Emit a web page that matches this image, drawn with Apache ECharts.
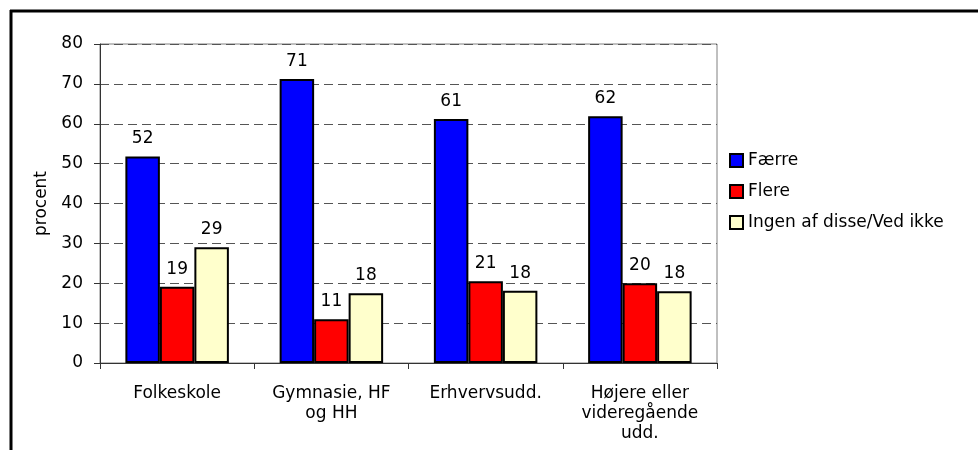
<!DOCTYPE html>
<html style="height: 100%">
<head>
<meta charset="utf-8">
<title>procent</title>
<script src="https://cdn.jsdelivr.net/npm/echarts@6/dist/echarts.min.js"></script>
</head>
<body style="height: 100%; margin: 0; background: #fff">
<div id="container" style="width: 978px; height: 450px"></div>
<script type="text/javascript">
// data
var categories = ['Folkeskole', 'Gymnasie, HF\nog HH', 'Erhvervsudd.', 'Højere eller\nvideregående\nudd.'];
var faerre = [51.8, 71.2, 61.2, 61.9];
var flere = [19.1, 11.0, 20.5, 20.0];
var ingen = [29.0, 17.5, 18.1, 18.0];
var seriesNames = ['Færre', 'Flere', 'Ingen af disse/Ved ikke'];
var seriesColors = ['#0000ff', '#ff0000', '#ffffcc'];

var font = 'DejaVu Sans';
var fs = 17;

var dom = document.getElementById('container');
var myChart = echarts.init(dom);

function barSeries(name, data, color) {
  return {
    name: name,
    type: 'bar',
    data: data,
    barWidth: 34.5,
    barGap: '0%',
    itemStyle: { color: color, borderColor: '#000', borderWidth: 2 },
    label: {
      show: true,
      position: 'top',
      distance: 9,
      color: '#000',
      fontFamily: font,
      fontSize: fs,
      formatter: function (p) { return Math.round(p.value); }
    }
  };
}

var option = {
  animation: false,
  textStyle: { fontFamily: font },
  graphic: [
    { type: 'line', shape: { x1: 10, y1: 11, x2: 978, y2: 11 }, style: { stroke: '#000', lineWidth: 3 } },
    { type: 'line', shape: { x1: 11, y1: 10, x2: 11, y2: 450 }, style: { stroke: '#000', lineWidth: 3 } }
  ],
  legend: {
    orient: 'vertical',
    left: 729,
    top: 152,
    padding: 0,
    itemWidth: 13,
    itemHeight: 13,
    itemGap: 14,
    icon: 'rect',
    textStyle: { fontFamily: font, fontSize: fs, color: '#000' },
    data: seriesNames
  },
  grid: {
    left: 100,
    top: 44,
    width: 617,
    height: 319,
    show: true,
    borderColor: '#808080',
    borderWidth: 1
  },
  xAxis: {
    type: 'category',
    data: categories,
    axisLine: { lineStyle: { color: '#333' } },
    axisTick: { show: true, length: 6, lineStyle: { color: '#333' } },
    axisLabel: { margin: 21, color: '#000', fontFamily: font, fontSize: fs, lineHeight: 20 }
  },
  yAxis: {
    type: 'value',
    min: 0,
    max: 80,
    interval: 10,
    name: 'procent',
    nameLocation: 'middle',
    nameGap: 46,
    nameTextStyle: { color: '#000', fontFamily: font, fontSize: fs },
    axisLine: { show: true, lineStyle: { color: '#333' } },
    axisTick: { show: true, length: 6, lineStyle: { color: '#333' } },
    axisLabel: { margin: 17, color: '#000', fontFamily: font, fontSize: fs },
    splitLine: { lineStyle: { color: '#555', type: [9, 5] } }
  },
  series: [
    barSeries(seriesNames[0], faerre, seriesColors[0]),
    barSeries(seriesNames[1], flere, seriesColors[1]),
    barSeries(seriesNames[2], ingen, seriesColors[2])
  ]
};

myChart.setOption(option);
</script>
</body>
</html>
